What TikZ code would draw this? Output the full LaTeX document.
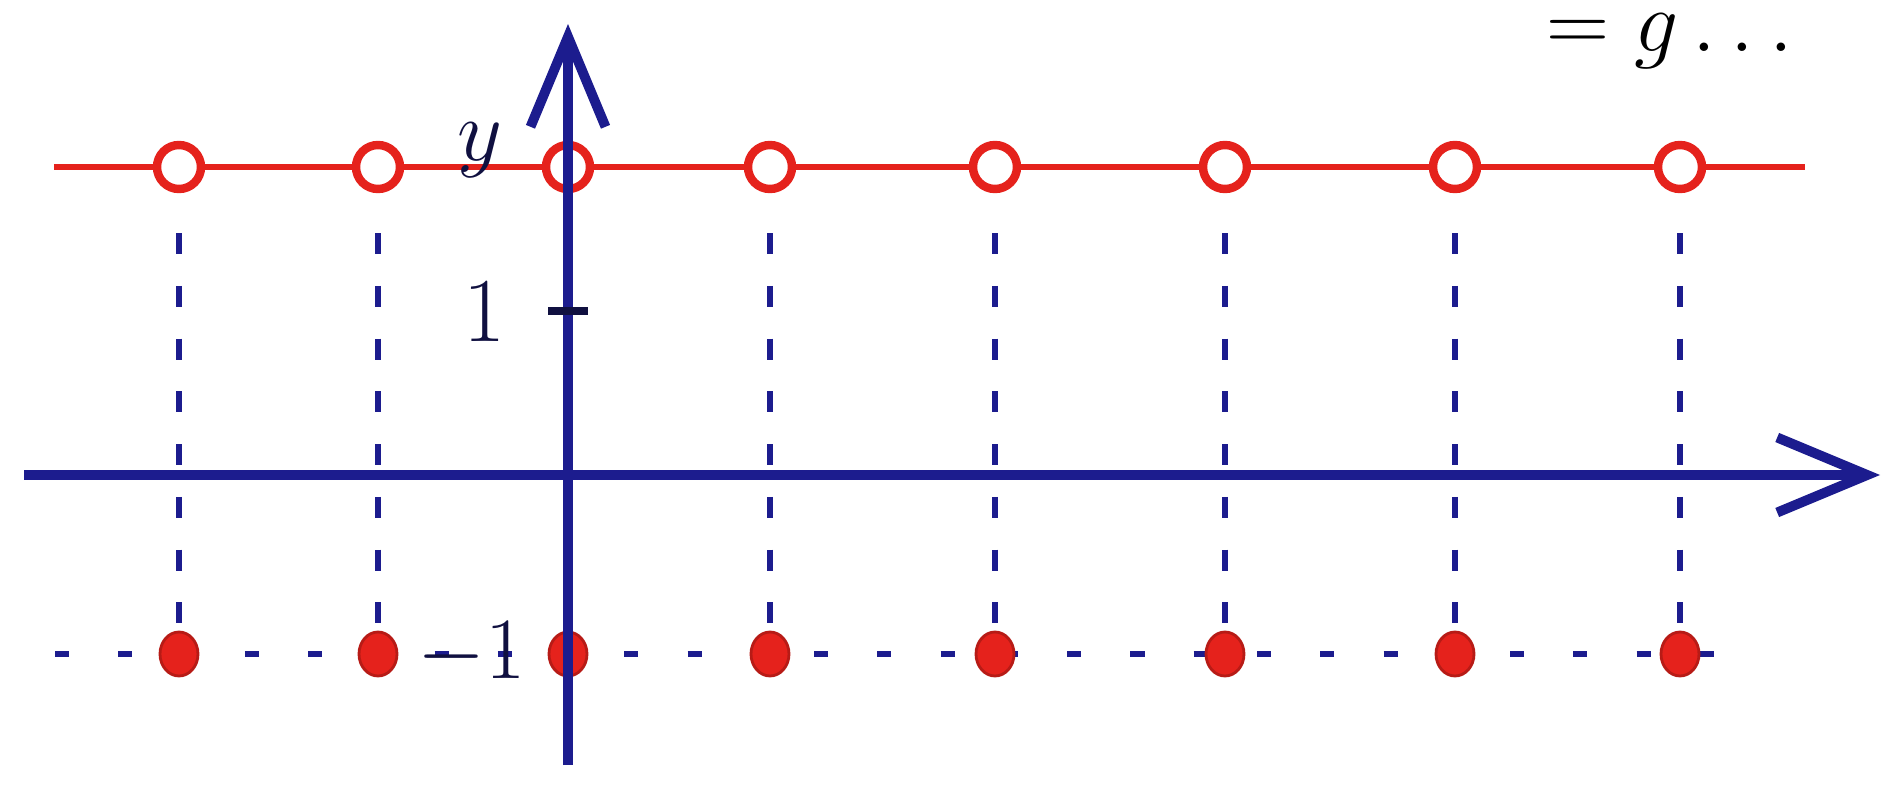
\documentclass[tikz,border=0pt]{standalone}
\usepackage{tikz}
\usetikzlibrary{arrows.meta,positioning,shapes.geometric}
\definecolor{skblue}{HTML}{1C1C8E}
\definecolor{skred}{HTML}{E5221C}
\definecolor{skdark}{HTML}{101040}
\tikzset{
  axisline/.style={draw=skblue,line width=2.8pt,-{Straight Barb[length=9mm,width=7.5mm,line width=2.8pt]}},
  redline/.style={draw=skred,line width=1.6pt},
  opendot/.style={circle,draw=skred,line width=2.4pt,fill=white,minimum size=4.4mm,inner sep=0pt},
  filldot/.style={ellipse,draw=skred!80!black,fill=skred,line width=0.8pt,minimum width=3.8mm,minimum height=4.4mm,inner sep=0pt},
  projline/.style={draw=skblue,line width=1.7pt,dash pattern=on 6pt off 9pt},
  baseline/.style={draw=skblue,line width=1.7pt,dash pattern=on 4pt off 14pt},
  ticklabel/.style={text=skdark,font=\fontsize{26}{26}\selectfont}
}
\begin{document}
\begin{tikzpicture}
  \useasboundingbox (0,0) rectangle (18.93,7.90);

  % ends of the axes and lines
  \coordinate (xstart) at (0.24,3.15);
  \coordinate (xend) at (18.80,3.15);
  \coordinate (ystart) at (5.68,0.25);
  \coordinate (yend) at (5.68,7.66);
  \coordinate (rstart) at (0.54,6.23);
  \coordinate (rend) at (18.05,6.23);
  \coordinate (bstart) at (0.55,1.36);
  \coordinate (bend) at (17.30,1.36);

  \draw[redline] (rstart) -- (rend);
  \draw[baseline] (bstart) -- (bend);

  % sample points, open on top, filled below
  \foreach \i/\x in {1/1.79,2/3.78,3/5.68,4/7.70,5/9.95,6/12.25,7/14.55,8/16.80}{
    \node[opendot] (top\i) at (\x,6.23) {};
    \node[filldot] (bot\i) at (\x,1.36) {};
    \draw[projline] ([yshift=-4mm]top\i.south) -- (bot\i.north);
  }

  \draw[axisline] (xstart) -- (xend);
  \draw[axisline] (ystart) -- (yend);

  % unit ticks
  \coordinate (tick) at (5.68,4.79);
  \draw[draw=skdark,line width=2.4pt] ([xshift=-2mm]tick) -- ([xshift=2mm]tick);
  \node[ticklabel,left=5mm of tick] (one) {1};
  \node[ticklabel,left=1mm of bot3] (minusone) {$-1$};
  \node[ticklabel] (ylabel) at (4.80,6.40) {$y$};

  % note at the top
  \node[text=black,font=\fontsize{38}{38}\selectfont,anchor=north,inner sep=1pt] (gnote) at (16.70,7.80) {$=g\ldots$};
\end{tikzpicture}
\end{document}
